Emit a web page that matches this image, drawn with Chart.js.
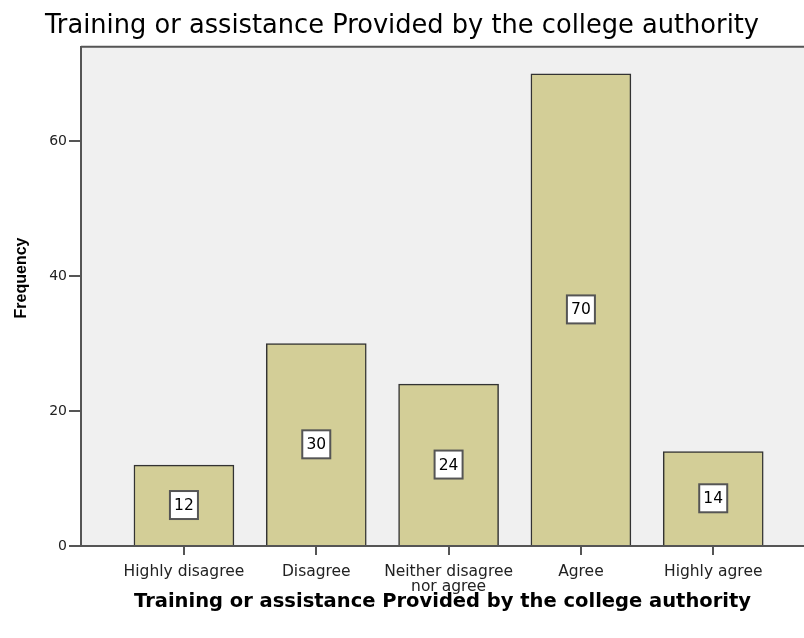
<!DOCTYPE html>
<html>
<head>
<meta charset="utf-8">
<script src="https://cdn.jsdelivr.net/npm/chart.js@4.4.1/dist/chart.umd.min.js"></script>
<style>
html,body{margin:0;padding:0;background:#fff;}
#wrap{width:804px;height:638px;}
</style>
</head>
<body>
<div id="wrap"><canvas id="c" width="804" height="638"></canvas></div>
<script>
const chartTitle = "Training or assistance Provided by the college authority";
const xAxisTitle = "Training or assistance Provided by the college authority";
const yAxisTitle = "Frequency";
const categories = ["Highly disagree", "Disagree", ["Neither disagree", "nor agree"], "Agree", "Highly agree"];
const frequencies = [12, 30, 24, 70, 14];
const yTicks = [0, 20, 40, 60];

const FONT = "'DejaVu Sans', sans-serif";
const FONT2 = "'Liberation Sans', Arial, sans-serif";

const bgPlugin = {
  id: 'bg',
  beforeDraw(chart) {
    const {ctx, chartArea: a} = chart;
    ctx.save();
    ctx.fillStyle = '#F0F0F0';
    ctx.fillRect(a.left, a.top, a.right - a.left, a.bottom - a.top);
    ctx.strokeStyle = '#555';
    ctx.lineWidth = 2;
    ctx.beginPath();
    ctx.moveTo(a.left, a.top);
    ctx.lineTo(a.right, a.top);
    ctx.stroke();
    ctx.restore();
  },
  afterDraw(chart) {
    const {ctx} = chart;
    ctx.save();
    ctx.translate(22, 278);
    ctx.rotate(-Math.PI / 2);
    ctx.font = "bold 16px " + FONT2;
    ctx.fillStyle = '#000';
    ctx.textAlign = 'center';
    ctx.textBaseline = 'middle';
    ctx.fillText(yAxisTitle, 0, 0);
    ctx.restore();
  }
};

const labelPlugin = {
  id: 'vlabels',
  afterDatasetsDraw(chart) {
    const {ctx} = chart;
    const meta = chart.getDatasetMeta(0);
    ctx.save();
    ctx.font = "15.5px " + FONT;
    ctx.textAlign = 'center';
    ctx.textBaseline = 'middle';
    meta.data.forEach((el, i) => {
      const v = chart.data.datasets[0].data[i].y;
      const cx = el.x;
      const cy = (el.y + el.base) / 2;
      const txt = String(v);
      const w = 28, h = 28;
      ctx.fillStyle = '#fff';
      ctx.fillRect(cx - w / 2, cy - h / 2, w, h);
      ctx.strokeStyle = '#555';
      ctx.lineWidth = 2;
      ctx.strokeRect(cx - w / 2, cy - h / 2, w, h);
      ctx.fillStyle = '#000';
      ctx.fillText(txt, cx, cy + 1);
    });
    ctx.restore();
  }
};

new Chart(document.getElementById('c'), {
  type: 'bar',
  data: {
    datasets: [{
      data: frequencies.map((v, i) => ({x: i, y: v})),
      backgroundColor: '#D3CE97',
      borderColor: '#333',
      borderWidth: 1.5,
      barThickness: 100
    }]
  },
  options: {
    responsive: false,
    animation: false,
    layout: {padding: 0},
    plugins: {
      legend: {display: false},
      tooltip: {enabled: false},
      title: {
        display: true,
        text: chartTitle,
        color: '#000',
        font: {family: FONT, size: 25.7, weight: 'normal', lineHeight: 1.2},
        padding: {top: 11, bottom: 5}
      }
    },
    scales: {
      x: {
        type: 'linear',
        offset: false,
        min: -0.778,
        max: 4.686,
        afterFit(s) { s.height = 92; },
        afterBuildTicks(s) { s.ticks = categories.map((c, i) => ({value: i})); },
        ticks: {
          autoSkip: false,
          maxRotation: 0,
          padding: 9,
          color: '#222',
          font: {family: FONT, size: 15.5, lineHeight: 0.97},
          callback: (v) => categories[v]
        },
        grid: {display: true, offset: false, drawOnChartArea: false, drawTicks: true, tickLength: 9, color: '#555', lineWidth: 2},
        border: {display: true, color: '#555', width: 2},
        title: {
          display: true,
          text: xAxisTitle,
          color: '#000',
          font: {family: FONT, size: 19.5, weight: 'bold', lineHeight: 1.2},
          padding: {top: 0, bottom: 24}
        }
      },
      y: {
        min: 0,
        max: 74,
        afterFit(s) { s.width = 81; },
        afterBuildTicks(s) { s.ticks = yTicks.map(v => ({value: v})); },
        ticks: {
          padding: 2,
          color: '#222',
          font: {family: FONT, size: 14}
        },
        grid: {display: true, drawOnChartArea: false, drawTicks: true, tickLength: 12, color: '#555', lineWidth: 2},
        border: {display: true, color: '#555', width: 2}
      }
    }
  },
  plugins: [bgPlugin, labelPlugin]
});
</script>
</body>
</html>
